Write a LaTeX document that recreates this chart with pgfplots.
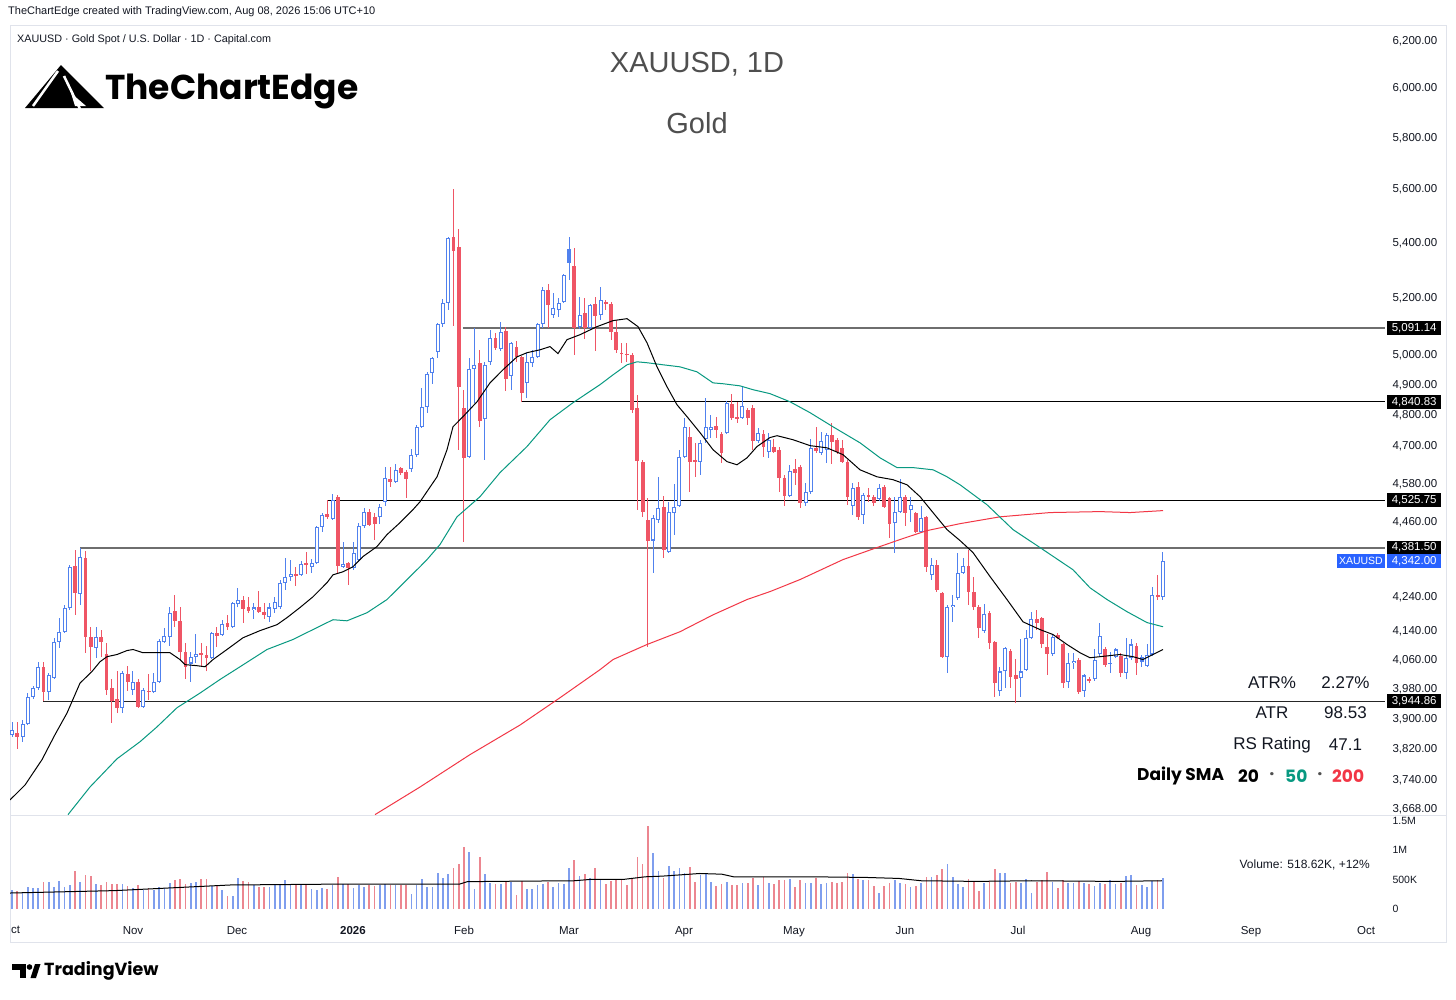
\documentclass[border=0pt]{standalone}
\usepackage{fontspec}
\setmainfont{Liberation Sans}
\newfontfamily\poppins{Poppins}
\usepackage{pgfplots}
\usepackage{pgfplotstable}
\pgfplotsset{compat=1.18}
\definecolor{upc}{HTML}{5081EE}
\definecolor{dnc}{HTML}{EF5565}
\definecolor{vup}{HTML}{7F9EEE}
\definecolor{vdn}{HTML}{EC8690}
\definecolor{smaf}{HTML}{089981}
\definecolor{smah}{HTML}{F23645}
\definecolor{tvtext}{HTML}{131722}
\definecolor{framec}{HTML}{E0E3EB}
\definecolor{tvblue}{HTML}{2962FF}
\definecolor{titlegray}{HTML}{4F4F4F}
\definecolor{levelgray}{HTML}{6E6E6E}

\pgfplotstableread{
i l h bl bh v
0 3851 3890 3856 3869 322
2 3838 3896 3851 3885 288
3 3882 3968 3885 3957 367
4 3952 3987 3957 3982 356
5 3976 4053 3982 4039 356
7 3948 4023 3971 4017 458
8 4006 4120 4009 4109 367
9 4092 4177 4109 4137 475
10 4134 4214 4137 4205 367
11 4200 4331 4205 4325 401
13 4214 4381.5 4246 4355 458
16 4064 4151 4092 4123 424
21 3914 4026 3928 4023 424
23 3963 4026 3976 3998 350
25 3928 3982 3930 3976 322
27 3968 4023 3971 3998 322
28 3995 4115 3998 4112 367
29 4106 4148 4109 4126 356
30 4098 4208 4123 4191 441
34 3998 4081 4048 4067 441
35 4050 4131 4067 4075 452
38 4061 4137 4064 4134 390
40 4126 4171 4129 4160 322
42 4148 4222 4151 4220 220
43 4206 4263 4217 4229 531
46 4174 4220 4200 4206 412
49 4165 4220 4180 4206 367
50 4191 4237 4203 4223 412
51 4203 4287 4206 4278 412
52 4258 4352 4278 4296 492
53 4284 4346 4296 4304 412
55 4298 4343 4301 4334 412
57 4307 4349 4325 4337 333
58 4334 4448 4337 4445 322
59 4430 4488 4445 4481 356
61 4466 4546 4469 4528 407
63 4322 4400 4325 4334 424
65 4316 4400 4322 4367 356
66 4340 4457 4346 4448 401
67 4442 4503 4448 4491 367
70 4454 4515 4475 4506 401
71 4509 4631 4521 4596 424
73 4580 4640 4584 4621 401
76 4615 4688 4625 4669 254
77 4663 4766 4669 4759 412
78 4756 4888 4759 4825 508
79 4805 4941 4825 4935 379
80 4901 4992 4938 4989 379
81 4989 5110 5009 5106 605
82 5096 5194 5106 5180 525
83 5155 5419 5180 5415 593
87 4659 4989 4663 4952 966
88 4838 5092 4952 4965 333
90 4653 4975 4785 4965 593
91 4965 5085 4975 5058 435
93 5013 5113 5020 5078 424
95 4881 5044 4928 5040 458
98 4854 5006 4904 4975 339
99 4958 5016 4972 4992 333
100 4989 5110 4992 5106 401
101 5092 5237 5106 5226 424
103 5127 5216 5138 5162 367
104 5131 5198 5155 5180 435
105 5180 5284 5184 5280 424
106 5262 5419 5324 5375 689
108 5089 5201 5096 5138 565
110 5085 5177 5092 5173 520
112 5120 5237 5138 5191 501
122 4307 4481 4403 4472 947
123 4457 4599 4466 4503 646
125 4367 4521 4370 4491 735
126 4421 4577 4488 4506 646
127 4506 4685 4509 4663 702
128 4659 4789 4663 4759 602
131 4606 4717 4647 4707 568
132 4707 4854 4720 4759 602
133 4724 4798 4749 4759 457
136 4737 4845 4740 4838 462
139 4785 4891 4789 4828 446
142 4707 4756 4714 4740 407
144 4659 4740 4679 4717 446
148 4537 4637 4540 4618 501
151 4509 4580 4518 4552 446
152 4546 4720 4552 4691 446
154 4669 4743 4675 4714 423
155 4644 4740 4685 4733 434
160 4481 4580 4509 4565 590
162 4454 4549 4481 4543 490
165 4525 4577 4531 4565 267
168 4367 4537 4457 4491 490
169 4488 4593 4491 4537 446
171 4460 4537 4497 4512 368
173 4427 4509 4430 4472 434
175 4287 4352 4301 4331 546
178 4023 4214 4067 4208 758
179 4165 4243 4208 4214 546
180 4229 4367 4234 4307 423
181 4304 4352 4307 4328 368
185 4134 4217 4140 4188 446
188 3960 4039 3974 4026 602
189 3982 4095 4026 4092 613
192 3957 4115 4009 4026 434
193 4028 4143 4031 4120 501
194 4117 4194 4120 4174 267
198 4070 4131 4075 4123 462
201 3982 4078 3998 4050 446
202 4034 4078 4050 4056 446
204 3957 4020 3974 4015 446
206 4001 4089 4006 4059 390
207 4070 4163 4075 4126 446
209 4023 4081 4048 4050 490
210 4064 4092 4067 4087 423
212 4004 4120 4023 4064 557
213 4059 4115 4064 4101 574
215 4039 4073 4053 4067 407
216 4039 4101 4042 4073 379
217 4070 4266 4073 4243 473
219 4229 4370 4237 4342 518
}\upT

\pgfplotstableread{
i l h bl bh v
1 3819 3890 3851 3861 305
6 3944.86 4053 3971 4037 452
12 4185 4376 4249 4328 644
14 4078 4372 4123 4352 576
15 4026 4151 4095 4123 559
17 4067 4143 4109 4123 401
18 3963 4106 3976 4075 452
19 3888 4004 3947 3982 424
20 3914 4026 3928 3952 424
22 3974 4042 3998 4020 390
24 3928 4006 3930 3998 401
26 3949 4020 3971 3974 356
31 4151 4243 4168 4197 492
32 4059 4208 4081 4168 508
33 4006 4106 4039 4081 429
36 4039 4106 4073 4078 503
37 4026 4098 4064 4073 508
39 4095 4151 4126 4134 401
41 4143 4185 4151 4163 220
44 4163 4240 4203 4229 469
45 4191 4237 4197 4206 458
47 4191 4255 4194 4206 367
48 4174 4220 4185 4194 367
54 4269 4325 4298 4304 412
56 4304 4370 4331 4337 401
60 4469 4525.75 4475 4485 345
62 4304 4543 4328 4537 548
64 4272 4340 4322 4337 424
68 4448 4500 4451 4491 401
69 4406 4488 4454 4475 390
72 4568 4631 4584 4593 401
74 4606 4631 4612 4628 401
75 4534 4621 4593 4615 401
84 5099 5598 5367 5419 701
85 4685 5449 4891 5382 763
86 4400 4881 4659 4821 1057
89 4759 5016 4779 4972 887
92 5016 5075 5023 5058 424
94 4878 5096 4918 5082 469
96 4975 5047 4992 5027 232
97 4840.83 4996 4871 4992 469
102 5092 5248 5173 5226 458
107 4999 5378 5092 5313 831
109 5054 5198 5092 5145 593
111 5013 5201 5134 5177 687
113 5155 5191 5177 5184 423
114 5051 5184 5078 5177 468
115 5006 5120 5016 5078 501
116 4972 5040 5003 5006 490
117 4975 5040 4999 5003 407
118 4805 5006 4815 4999 501
119 4497 4864 4650 4821 880
120 4475 4653 4491 4647 758
121 4095 4534 4403 4466 1409
124 4352 4540 4376 4506 518
129 4552 4759 4647 4727 713
130 4599 4707 4647 4653 462
134 4724 4792 4749 4762 390
135 4644 4743 4675 4737 423
137 4782 4868 4789 4835 407
138 4772 4841 4785 4792 407
140 4766 4821 4789 4815 434
141 4685 4831 4714 4821 518
143 4663 4749 4695 4737 535
145 4675 4720 4679 4695 423
146 4552 4695 4596 4685 490
147 4509 4606 4540 4596 490
149 4574 4656 4612 4625 368
150 4503 4637 4518 4631 490
153 4675 4759 4682 4691 518
156 4640 4772 4711 4733 462
157 4672 4724 4679 4717 446
158 4644 4717 4647 4691 457
159 4512 4653 4537 4647 602
161 4466 4584 4475 4568 501
163 4521 4565 4537 4543 490
164 4509 4543 4518 4537 390
166 4503 4574 4506 4568 390
167 4412 4537 4454 4534 446
170 4448 4543 4488 4537 423
172 4427 4491 4430 4488 390
174 4310 4478 4325 4475 546
176 4252 4346 4258 4331 568
177 4064 4252 4067 4249 680
182 4214 4376 4252 4328 501
183 4200 4296 4206 4252 462
184 4120 4214 4148 4208 312
186 4087 4197 4106 4191 479
187 3957 4110 3995 4109 685
190 3982 4087 4012 4084 446
191 3941 4061 4006 4015 457
195 4143 4200 4163 4174 457
196 4092 4180 4101 4177 490
197 4017 4131 4075 4095 624
199 4115 4134 4120 4129 351
200 3982 4106 3995 4103 490
203 3966 4064 3971 4059 479
205 3995 4012 4001 4004 423
208 4039 4095 4045 4087 423
211 4012 4078 4023 4070 434
214 4017 4106 4050 4098 407
218 4229 4301 4237 4243 490
}\dnT

\pgfplotstableread{
i l h bl bh v
106 5262 5419 5324 5375 689
215 4039 4073 4053 4067 407
}\bfT

\newcommand\fs[1]{\fontsize{#1}{#1}\selectfont}

\begin{document}
\begin{tikzpicture}
\fill[white] (0pt,0pt) rectangle (1456pt,-999pt);
\draw[framec, line width=1pt] (10pt,-25pt) rectangle (1446pt,-942pt);
\draw[framec, line width=1pt] (10pt,-815pt) -- (1446pt,-815pt);

% header texts
\node[anchor=west, font=\fs{11}, text=tvtext, inner sep=0pt] at (8pt,-12pt) {TheChartEdge created with TradingView.com, Aug 08, 2026 15:06 UTC+10};
\node[anchor=west, font=\fs{10.8}, text=tvtext, inner sep=0pt] at (17pt,-40pt) {XAUUSD · Gold Spot / U.S. Dollar · 1D · Capital.com};

% logo
\fill[black] (25pt,-108pt) -- (61pt,-65pt) -- (104pt,-108pt) -- cycle;
\draw[white, line width=2.5pt] (58pt,-71pt) -- (33pt,-106pt);
\draw[white, line width=2.5pt] (64pt,-76pt) -- (80pt,-109pt);
\fill[white] (71pt,-93pt) -- (75pt,-106pt) -- (86pt,-106pt) -- cycle;
\node[anchor=base west, font=\fs{34.5}\poppins\bfseries, inner sep=0pt] at (105pt,-99pt) {TheChartEdge};

% title
\node[text=titlegray, font=\fs{29}] at (697pt,-64pt) {XAUUSD, 1D};
\node[text=titlegray, font=\fs{29}] at (697pt,-123pt) {Gold};

\begin{axis}[
  scale only axis, width=1375pt, height=790pt,
  at={(10pt,-25pt)}, anchor=north west,
  xmin=-0.381, xmax=261.27,
  ymode=log, ymin=3650.8, ymax=6263.9,
  axis x line*=bottom, axis y line*=right,
  axis line style={draw=none},
  xtick=\empty,
  ytick={3668,3740,3820,3900,3980,4060,4140,4240,4460,4580,4700,4800,4900,5000,5200,5400,5600,5800,6000,6200},
  yticklabels={{3,668.00},{3,740.00},{3,820.00},{3,900.00},{3,980.00},{4,060.00},{4,140.00},{4,240.00},{4,460.00},{4,580.00},{4,700.00},{4,800.00},{4,900.00},{5,000.00},{5,200.00},{5,400.00},{5,600.00},{5,800.00},{6,000.00},{6,200.00}},
  major tick length=0pt,
  yticklabel style={font=\fs{11.5}, text=tvtext, anchor=west, xshift=4pt, yshift=-1pt},
  clip mode=individual,
]
% level lines
\addplot[levelgray, line width=1.6pt] coordinates {(85.82,5091.14) (261.27,5091.14)};
\addplot[black, line width=1pt] coordinates {(96.86,4840.83) (261.27,4840.83)};
\addplot[black, line width=1pt] coordinates {(60.1,4525.75) (261.27,4525.75)};
\addplot[levelgray, line width=1.6pt] coordinates {(12.94,4381.5) (261.27,4381.5)};
\addplot[black!85, line width=1.2pt] coordinates {(5.9,3944.86) (261.27,3944.86)};

% red candles
\addplot[draw=none, error bars/.cd, y dir=plus, y explicit, error mark=none,
  error bar style={draw=dnc, line width=1pt}]
  table[x=i, y=l, y error plus expr=\thisrow{h}-\thisrow{l}] {\dnT};
\addplot[draw=none, error bars/.cd, y dir=plus, y explicit, error mark=none,
  error bar style={draw=dnc, line width=3.8pt, line cap=butt}]
  table[x=i, y=bl, y error plus expr=\thisrow{bh}-\thisrow{bl}] {\dnT};
% blue candles
\addplot[draw=none, error bars/.cd, y dir=plus, y explicit, error mark=none,
  error bar style={draw=upc, line width=1pt}]
  table[x=i, y=l, y error plus expr=\thisrow{h}-\thisrow{l}] {\upT};
\addplot[draw=none, error bars/.cd, y dir=plus, y explicit, error mark=none,
  error bar style={draw=upc, line width=4pt, line cap=butt}]
  table[x=i, y=bl, y error plus expr=\thisrow{bh}-\thisrow{bl}] {\upT};
\addplot[draw=none, error bars/.cd, y dir=plus, y explicit, error mark=none,
  error bar style={draw=white, line width=2pt, line cap=butt}]
  table[x=i, y expr=\thisrow{bl}*1.0007, y error plus expr={max(\thisrow{bh}*0.9993-\thisrow{bl}*1.0007,0)}] {\upT};
\addplot[draw=none, error bars/.cd, y dir=plus, y explicit, error mark=none,
  error bar style={draw=upc, line width=4pt, line cap=butt}]
  table[x=i, y=bl, y error plus expr=\thisrow{bh}-\thisrow{bl}] {\bfT};

% SMA 200
\addplot[smah, line width=1pt] coordinates {(69.08,3651) (77.64,3721) (87.15,3804) (96.67,3882) (104.28,3955) (111.89,4031) (114.37,4059) (120.84,4101) (127.12,4137) (133.40,4185) (139.87,4229) (144.24,4252) (149.95,4287) (158.13,4346) (164.61,4382) (169.55,4409) (174.12,4433) (180.40,4454) (188.01,4475) (197.53,4488) (207.04,4491) (212.75,4488) (219.03,4494)};
% SMA 50
\addplot[smaf, line width=1pt] coordinates {(10.66,3651) (14.84,3721) (19.98,3793) (24.36,3838) (27.59,3877) (31.40,3928) (35.78,3968) (39.58,4004) (43.39,4039) (48.53,4087) (53.47,4115) (57.28,4143) (61.08,4171) (63.75,4168) (67.55,4191) (71.36,4229) (75.17,4287) (77.64,4325) (78.97,4346) (81.45,4391) (84.68,4475) (89.06,4537) (92.86,4612) (98.00,4695) (102.38,4782) (106.76,4838) (111.89,4898) (114.37,4931) (117.03,4965) (118.94,4975) (120.84,4972) (123.88,4965) (127.12,4958) (130.35,4941) (133.40,4904) (135.30,4901) (138.53,4894) (141.01,4881) (144.24,4868) (148.05,4841) (151.86,4805) (156.23,4759) (161.37,4707) (165.18,4659) (168.41,4628) (171.46,4628) (175.26,4621) (177.93,4599) (180.40,4574) (185.54,4512) (190.49,4436) (195.62,4382) (201.90,4316) (205.14,4263) (208.37,4229) (212.18,4194) (215.98,4163) (219.03,4151)};
% SMA 20
\addplot[black, line width=1pt] coordinates {(-0.38,3688) (2.47,3726) (5.71,3791) (8.18,3856) (10.47,3914) (12.94,3995) (15.22,4026) (16.75,4053) (18.08,4067) (19.98,4073) (21.88,4084) (23.03,4087) (24.93,4078) (28.16,4078) (30.07,4078) (31.97,4059) (32.92,4045) (35.20,4042) (36.73,4039) (38.25,4059) (40.91,4087) (43.96,4120) (47.19,4140) (50.43,4157) (52.33,4177) (54.81,4206) (57.28,4237) (59.94,4278) (61.08,4301) (62.99,4310) (64.89,4325) (66.79,4355) (69.46,4385) (71.36,4421) (73.83,4457) (76.31,4497) (77.64,4521) (80.88,4599) (82.78,4685) (83.92,4759) (85.82,4792) (88.49,4841) (90.96,4904) (93.43,4948) (96.10,4992) (98.00,5006) (100.48,5016) (102.38,5027) (103.90,5003) (105.61,5051) (108.09,5068) (111.32,5096) (114.37,5117) (117.03,5124) (119.12,5096) (120.84,5040) (122.74,4958) (124.64,4891) (126.55,4831) (128.45,4792) (130.92,4740) (133.40,4685) (136.06,4647) (137.96,4637) (139.87,4659) (141.77,4695) (144.24,4724) (145.58,4730) (148.62,4717) (151.86,4698) (155.09,4691) (158.13,4669) (161.37,4621) (164.61,4599) (167.65,4590) (170.31,4574) (172.79,4537) (175.26,4488) (177.93,4436) (180.40,4403) (182.87,4367) (186.11,4296) (189.34,4229) (192.39,4165) (195.62,4143) (198.10,4129) (200.76,4101) (203.23,4078) (205.14,4064) (207.04,4067) (210.85,4073) (213.32,4067) (215.22,4059) (217.13,4073) (219.03,4087)};

% price labels
\node[fill=black, text=white, font=\fs{11.5}, anchor=west, inner sep=0pt, minimum width=54pt, minimum height=14pt, xshift=2pt] at (axis cs:261.27,5091.14) {5,091.14};
\node[fill=black, text=white, font=\fs{11.5}, anchor=west, inner sep=0pt, minimum width=54pt, minimum height=14pt, xshift=2pt] at (axis cs:261.27,4840.83) {4,840.83};
\node[fill=black, text=white, font=\fs{11.5}, anchor=west, inner sep=0pt, minimum width=54pt, minimum height=14pt, xshift=2pt] at (axis cs:261.27,4525.75) {4,525.75};
\node[fill=black, text=white, font=\fs{11.5}, anchor=west, inner sep=0pt, minimum width=54pt, minimum height=14pt, xshift=2pt] at (axis cs:261.27,4381.5) {4,381.50};
\node[fill=black, text=white, font=\fs{11.5}, anchor=west, inner sep=0pt, minimum width=54pt, minimum height=14pt, xshift=2pt] at (axis cs:261.27,3944.86) {3,944.86};
\node[fill=tvblue, text=white, font=\fs{11.5}, anchor=west, inner sep=0pt, minimum width=54pt, minimum height=14pt, xshift=2pt] at (axis cs:261.27,4342) {4,342.00};
\node[fill=tvblue, text=white, font=\fs{10.5}, anchor=east, inner xsep=2pt, inner ysep=0pt, minimum height=14pt] at (axis cs:261.27,4342) {XAUUSD};
\end{axis}

\begin{axis}[
  scale only axis, width=1375pt, height=94pt,
  at={(10pt,-909pt)}, anchor=south west,
  xmin=-0.381, xmax=261.27,
  ymin=0, ymax=1593,
  axis x line*=bottom, axis y line*=right,
  axis line style={draw=none},
  major tick length=0pt,
  xtick={0.67,23.03,42.82,64.89,86.01,106.0,127.88,148.81,169.93,191.44,214.84,235.78,257.66},
  xticklabels={ct,Nov,Dec,\textbf{2026},Feb,Mar,Apr,May,Jun,Jul,Aug,Sep,Oct},
  xticklabel style={font=\fs{11.5}, text=tvtext, yshift=-14pt},
  ytick={0,500,1000,1500},
  yticklabels={0,500K,1M,1.5M},
  yticklabel style={font=\fs{10.5}, text=tvtext, anchor=west, xshift=4pt},
  clip mode=individual,
]
\addplot[ycomb, vup, line width=1.7pt] table[x=i, y=v] {\upT};
\addplot[ycomb, vdn, line width=1.7pt] table[x=i, y=v] {\dnT};
\addplot[black, line width=1pt] coordinates {(-0.38,271) (19.6,312) (41.5,407) (63.4,423) (85.2,423) (86.6,462) (91,468) (107,479) (110,501) (116.3,501) (120.5,546) (123.7,557) (130.9,602) (135.1,590) (137.3,546) (152,546) (162.5,535) (168.8,518) (173,479) (183.5,468) (194,479) (209.7,468) (218.8,479)};
\end{axis}

% indicator text block
\node[font=\fs{17}, text=tvtext] at (1272pt,-683pt) {ATR\%};
\node[font=\fs{17}, text=tvtext] at (1345.5pt,-683pt) {2.27\%};
\node[font=\fs{17}, text=tvtext] at (1272pt,-713pt) {ATR};
\node[font=\fs{17}, text=tvtext] at (1345.5pt,-713pt) {98.53};
\node[font=\fs{17}, text=tvtext] at (1272pt,-745pt) {RS Rating};
\node[font=\fs{17}, text=tvtext] at (1345.5pt,-745pt) {47.1};
\node[anchor=west, font=\fs{17}\poppins\bfseries, text=black, inner sep=0pt] at (1137pt,-776pt) {Daily SMA};
\node[anchor=west, font=\fs{17}\poppins\bfseries, text=black, inner sep=0pt] at (1238pt,-776pt) {20};
\node[font=\fs{17}\poppins\bfseries, text=titlegray, inner sep=0pt] at (1272pt,-776pt) {·};
\node[anchor=west, font=\fs{17}\poppins\bfseries, text=smaf, inner sep=0pt] at (1285pt,-776pt) {50};
\node[font=\fs{17}\poppins\bfseries, text=titlegray, inner sep=0pt] at (1320pt,-776pt) {·};
\node[anchor=west, font=\fs{17}\poppins\bfseries, text=smah, inner sep=0pt] at (1332pt,-776pt) {200};

% volume text
\node[anchor=east, font=\fs{12}, text=tvtext, inner sep=0pt] at (1370pt,-865pt) {Volume: 518.62K, +12\%};

% TradingView logo
\fill[black] (12pt,-964pt) rectangle (26pt,-970pt);
\fill[black] (19.5pt,-964pt) rectangle (26pt,-978pt);
\fill[black] (29.5pt,-967pt) circle (2.8pt);
\fill[black] (30.5pt,-978pt) -- (36pt,-978pt) -- (40.5pt,-964pt) -- (35pt,-964pt) -- cycle;
\node[anchor=west, font=\fs{17.5}\poppins\bfseries, inner sep=0pt] at (44pt,-971pt) {TradingView};
\end{tikzpicture}
\end{document}
